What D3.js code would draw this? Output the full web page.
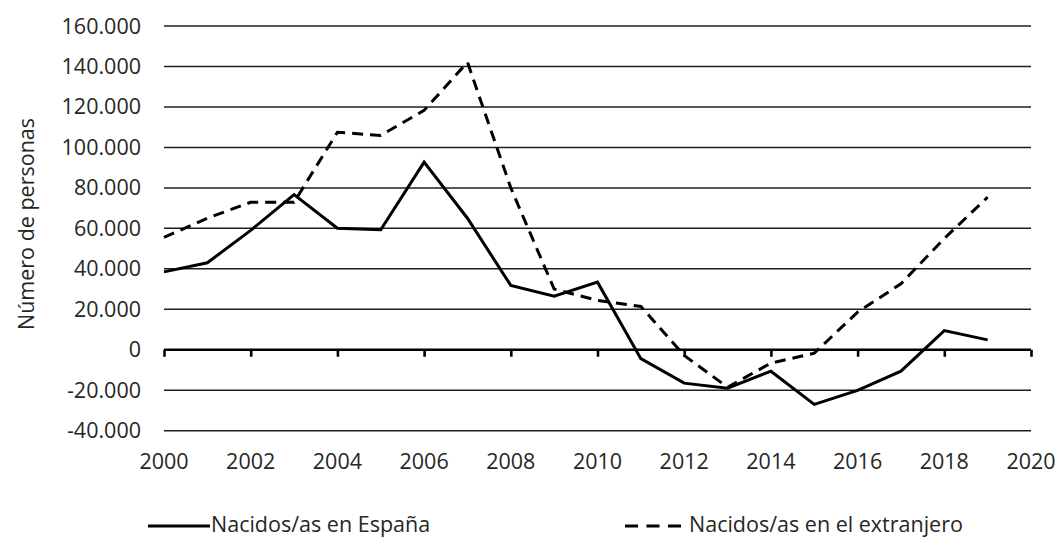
<!DOCTYPE html>
<html>
<head>
<meta charset="utf-8">
<script src="https://cdn.jsdelivr.net/npm/d3@7"></script>
<style>
  body { margin: 0; background: #fff; }
  svg text { font-family: "Open Sans", sans-serif; fill: #262626; }
</style>
</head>
<body>
<svg id="chart" width="1059" height="537"></svg>
<script>
const years = d3.range(2000, 2020);
const spain = [38500, 43000, 59000, 76700, 60100, 59300, 92700, 65000, 31800, 26500,
  33400, -4400, -16500, -19000, -10600, -27000, -20100, -10600, 9500, 4900];
const abroad = [55600, 65000, 72900, 72900, 107500, 105900, 118300, 142100, 80000, 30000,
  24400, 21400, -2800, -18500, -6600, -1700, 18600, 32600, 55000, 75400];
const yTicks = [-40000, -20000, 0, 20000, 40000, 60000, 80000, 100000, 120000, 140000, 160000];
const xTicks = d3.range(2000, 2021, 2);
const seriesNames = ["Nacidos/as en España", "Nacidos/as en el extranjero"];

const svg = d3.select("#chart");
const x = d3.scaleLinear().domain([2000, 2020]).range([164, 1031]);
const y = d3.scaleLinear().domain([-40000, 160000]).range([430.7, 26]);
const fmt = (v) => d3.format(",")(v).replace(/,/g, ".").replace("\u2212", "-");
const fs = 21.5;

// gridlines
svg.append("g")
  .selectAll("line")
  .data(yTicks.filter((d) => d !== 0))
  .join("line")
  .attr("x1", x(2000))
  .attr("x2", x(2020))
  .attr("y1", (d) => y(d))
  .attr("y2", (d) => y(d))
  .attr("stroke", "#1f1f1f")
  .attr("stroke-width", 1.5);

// y labels
svg.append("g")
  .selectAll("text")
  .data(yTicks)
  .join("text")
  .attr("x", 141)
  .attr("y", (d) => y(d))
  .attr("dy", "0.35em")
  .attr("text-anchor", "end")
  .attr("font-size", fs)
  .text(fmt);

// zero axis with ticks
const xAxis = svg.append("g")
  .attr("transform", `translate(0,${y(0)})`)
  .call(d3.axisBottom(x).tickValues(xTicks).tickSize(7).tickFormat(""));
xAxis.select(".domain").attr("stroke", "#000").attr("stroke-width", 2.6).attr("d", `M${x(2000)},0H${x(2020)}`);
xAxis.selectAll(".tick line").attr("stroke", "#000").attr("stroke-width", 2.6);

// x labels
svg.append("g")
  .selectAll("text")
  .data(xTicks)
  .join("text")
  .attr("x", (d) => x(d))
  .attr("y", 469)
  .attr("text-anchor", "middle")
  .attr("font-size", fs)
  .text((d) => d);

// y title
svg.append("text")
  .attr("transform", "translate(26,224) rotate(-90)")
  .attr("dy", "0.35em")
  .attr("text-anchor", "middle")
  .attr("font-size", fs)
  .text("Número de personas");

const line = d3.line().x((d, i) => x(years[i])).y((d) => y(d));

svg.append("path")
  .datum(abroad)
  .attr("d", line)
  .attr("fill", "none")
  .attr("stroke", "#000")
  .attr("stroke-width", 3)
  .attr("stroke-dasharray", "11,7");

svg.append("path")
  .datum(spain)
  .attr("d", line)
  .attr("fill", "none")
  .attr("stroke", "#000")
  .attr("stroke-width", 3);

// legend
const legY = 524;
const legend = svg.append("g");
legend.append("line")
  .attr("x1", 148).attr("x2", 210).attr("y1", legY + 2).attr("y2", legY + 2)
  .attr("stroke", "#000").attr("stroke-width", 3);
legend.append("text")
  .attr("x", 211).attr("y", legY).attr("dy", "0.35em")
  .attr("font-size", fs).text(seriesNames[0]);
legend.append("line")
  .attr("x1", 625).attr("x2", 688).attr("y1", legY + 2).attr("y2", legY + 2)
  .attr("stroke", "#000").attr("stroke-width", 3)
  .attr("stroke-dasharray", "13,8.5");
legend.append("text")
  .attr("x", 689).attr("y", legY).attr("dy", "0.35em")
  .attr("font-size", fs).text(seriesNames[1]);
</script>
</body>
</html>
